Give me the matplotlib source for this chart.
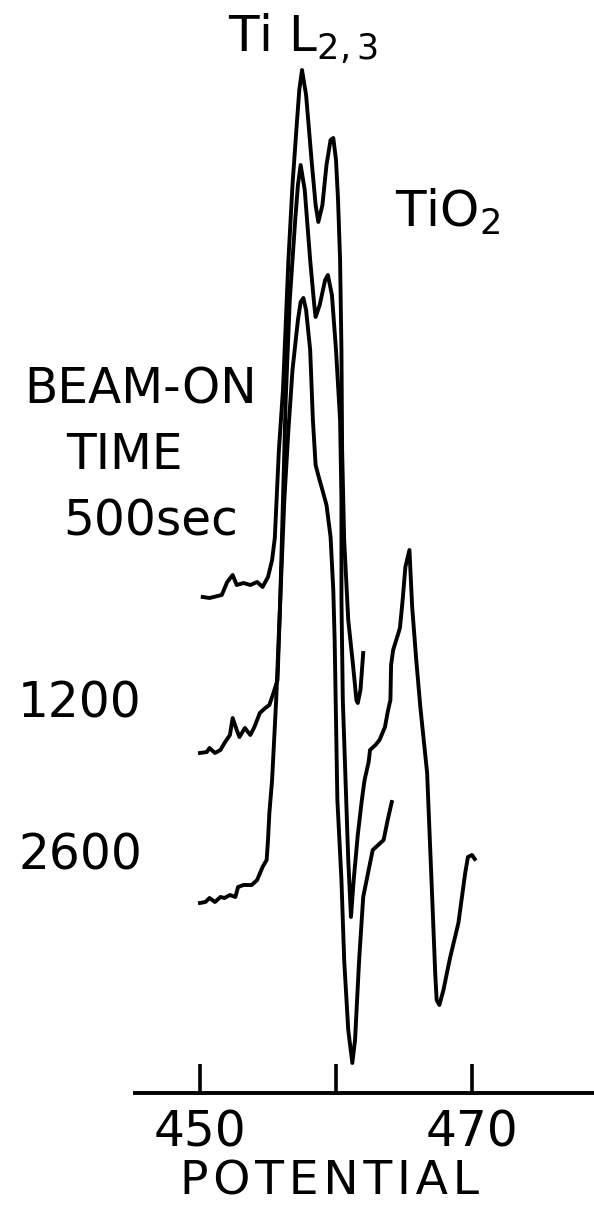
import matplotlib
matplotlib.use("Agg")
import matplotlib.pyplot as plt

# potential (eV) and signal (arb. units)
x_500 = [450.2, 450.7, 451.6, 452.0, 452.4, 452.7, 453.2, 453.7, 454.2, 454.6,
         455.0, 455.3, 455.5, 455.8, 456.1, 456.5, 456.8, 457.1, 457.3, 457.5,
         457.8, 458.2, 458.5, 458.7, 459.0, 459.3, 459.6, 459.8, 460.0, 460.15,
         460.3, 460.4, 460.45, 460.6, 460.9, 461.25, 461.5, 461.6, 461.8, 462.0]
y_500 = [49.6, 49.5, 49.8, 51.1, 51.8, 50.8, 51.0, 50.8, 51.1, 50.6,
         51.6, 53.3, 55.5, 64.3, 70.3, 83.3, 90.8, 96.6, 100.3, 102.3,
         99.8, 93.3, 88.8, 87.1, 88.8, 92.8, 95.3, 95.5, 93.3, 89.3,
         83.3, 74.3, 64.3, 55.3, 47.3, 42.8, 39.3, 39.0, 40.3, 44.0]

x_1200 = [450.0, 450.5, 450.7, 451.1, 451.5, 451.8, 452.2, 452.4, 452.7, 452.9,
          453.3, 453.7, 454.0, 454.4, 454.8, 455.1, 455.4, 455.7, 455.9, 456.1,
          456.3, 456.6, 457.0, 457.2, 457.4, 457.7, 458.1, 458.4, 458.5, 458.8,
          459.2, 459.4, 459.7, 460.0, 460.3, 460.4, 460.4, 460.5, 460.7, 460.9,
          461.1, 461.3, 461.6, 461.9, 462.1, 462.4, 462.5, 462.9, 463.2, 463.6,
          463.8, 464.0, 464.05, 464.2, 464.5, 464.7, 464.9, 465.1, 465.4, 465.6,
          465.9, 466.2, 466.7, 466.9, 467.1, 467.3, 467.4, 467.6, 467.9, 468.2,
          468.4, 469.0, 469.5, 469.7, 470.0, 470.2]
y_1200 = [34.0, 34.1, 34.5, 34.0, 34.3, 35.0, 35.8, 37.5, 36.3, 35.6,
          36.5, 35.8, 36.6, 38.0, 38.5, 38.8, 40.0, 41.3, 49.3, 59.3,
          69.3, 79.3, 87.3, 90.8, 92.8, 90.3, 83.3, 78.8, 77.6, 78.8,
          81.3, 81.8, 79.8, 74.3, 67.3, 59.3, 49.3, 39.3, 31.3, 23.3,
          17.6, 21.3, 25.8, 29.3, 31.3, 33.1, 34.3, 34.8, 35.3, 36.6,
          38.1, 39.3, 42.8, 44.3, 45.6, 46.5, 49.3, 52.6, 54.3, 48.6,
          43.3, 38.6, 32.0, 25.3, 18.6, 11.8, 9.3, 8.8, 10.3, 12.3,
          13.6, 17.0, 22.0, 23.6, 23.8, 23.4]

x_2600 = [450.0, 450.4, 450.7, 451.1, 451.5, 451.8, 452.2, 452.6, 452.8, 453.2,
          453.8, 454.2, 454.6, 454.9, 455.0, 455.1, 455.3, 455.6, 455.9, 456.2,
          456.5, 456.8, 457.2, 457.4, 457.6, 457.8, 458.1, 458.3, 458.5, 458.75,
          459.0, 459.3, 459.6, 459.8, 459.9, 460.0, 460.1, 460.4, 460.6, 460.9,
          461.2, 461.4, 461.7, 462.0, 462.4, 462.7, 463.1, 463.5, 463.8, 464.1]
y_2600 = [19.0, 19.1, 19.5, 19.1, 19.6, 19.5, 19.8, 19.6, 20.6, 20.8,
          20.8, 21.3, 22.6, 23.3, 25.3, 28.0, 31.3, 39.3, 49.3, 59.3,
          66.3, 72.3, 77.3, 79.1, 79.5, 78.3, 74.3, 67.3, 62.8, 61.5,
          60.3, 58.8, 55.6, 50.3, 45.3, 37.3, 29.3, 21.3, 13.3, 6.3,
          3.0, 5.3, 13.3, 19.6, 22.3, 24.3, 24.8, 25.3, 27.3, 29.1]

xticks = [450, 460, 470]
xticklabels = ["450", "", "470"]

W, H = 594, 1208
fig = plt.figure(figsize=(W / 100, H / 100), dpi=100)
ax = fig.add_axes([135 / W, 115 / H, 1 - 135 / W, 1093 / H])

ax.set_xlim(445.22, 478.97)
ax.set_ylim(0, 109.3)

lw = 2.8
for xs, ys in [(x_500, y_500), (x_1200, y_1200), (x_2600, y_2600)]:
    ax.plot(xs, ys, color="black", lw=lw, clip_on=False, solid_joinstyle="round")

for s in ["top", "right", "left"]:
    ax.spines[s].set_visible(False)
ax.spines["bottom"].set_linewidth(2.8)
ax.set_yticks([])
ax.set_xticks(xticks, labels=xticklabels)
ax.tick_params(axis="x", direction="in", length=21, width=2.6, pad=11,
               labelsize=35)

def txt(x, y, s, size, **kw):
    fig.text(x / W, 1 - y / H, s, fontsize=size, ha="center", va="center", **kw)

# hair spaces to widen the lettering a little
txt(330, 1182, "\u200a".join("POTENTIAL"), 34)
txt(303, 38, r"Ti L$_{2,3}$", 36)
txt(448, 212, r"TiO$_2$", 36)
txt(141, 390, "BEAM-ON", 35)
txt(124, 455, "TIME", 35)
txt(151, 522, "500sec", 35)
txt(80, 704, "1200", 35)
txt(80, 855, "2600", 35)

fig.savefig("out.png", dpi=100)
